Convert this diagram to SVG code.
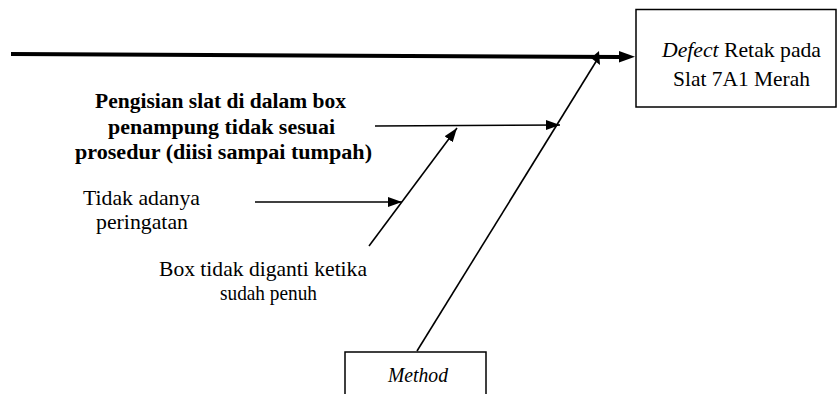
<svg xmlns="http://www.w3.org/2000/svg" width="837" height="394" viewBox="0 0 837 394">
  <defs>
    <marker id="head" markerUnits="userSpaceOnUse" markerWidth="15" markerHeight="11" refX="14" refY="5" orient="auto">
      <path d="M0,0 L14,5 L0,10 Z" fill="#000"/>
    </marker>
  </defs>
  <style>
    text { font-family: 'Liberation Serif', serif; font-size: 21px; fill: #000; }
    .b { font-weight: bold; font-size: 20.5px; }
    .i { font-style: italic; }
    .box { fill: #fff; stroke: #000; stroke-width: 1.5; }
    .ln { stroke: #000; stroke-width: 1.6; fill: none; }
  </style>
  <rect width="837" height="394" fill="#fff"/>

  <!-- connectors -->
  <g id="connectors">
    <!-- spine to the effect box -->
    <line x1="11" y1="54" x2="621" y2="57" stroke="#000" stroke-width="4"/>
    <polygon points="619,51 635,56.8 619,62.5" fill="#000"/>
    <!-- method bone meets the spine -->
    <line class="ln" x1="417" y1="351" x2="597" y2="60"/>
    <polygon points="599,51 600,65 591,58" fill="#000"/>
    <!-- cause branches -->
    <line class="ln" x1="375" y1="126" x2="560" y2="125" marker-end="url(#head)"/>
    <line class="ln" x1="369" y1="246" x2="457" y2="128" marker-end="url(#head)"/>
    <line class="ln" x1="255" y1="202" x2="402" y2="202" marker-end="url(#head)"/>
  </g>

  <!-- effect -->
  <g id="effect">
    <rect class="box" x="636" y="9.5" width="200" height="97.5"/>
    <text x="662" y="57" textLength="159" lengthAdjust="spacingAndGlyphs"><tspan class="i">Defect</tspan> Retak pada</text>
    <text x="673" y="85.5" textLength="137" lengthAdjust="spacingAndGlyphs">Slat 7A1 Merah</text>
  </g>

  <!-- category -->
  <g id="method">
    <rect class="box" x="345" y="352" width="141" height="60"/>
    <text class="i" x="388" y="382" textLength="60" lengthAdjust="spacingAndGlyphs">Method</text>
  </g>

  <!-- causes -->
  <g id="cause-pengisian">
    <text class="b" x="95" y="108" textLength="251" lengthAdjust="spacingAndGlyphs">Pengisian slat di dalam box</text>
    <text class="b" x="108" y="134" textLength="227" lengthAdjust="spacingAndGlyphs">penampung tidak sesuai</text>
    <text class="b" x="75" y="159" textLength="297" lengthAdjust="spacingAndGlyphs">prosedur (diisi sampai tumpah)</text>
  </g>
  <g id="cause-peringatan">
    <text x="83" y="205" textLength="117" lengthAdjust="spacingAndGlyphs">Tidak adanya</text>
    <text x="96" y="229" textLength="92" lengthAdjust="spacingAndGlyphs">peringatan</text>
  </g>
  <g id="cause-box">
    <text x="159" y="276" textLength="208" lengthAdjust="spacingAndGlyphs">Box tidak diganti ketika</text>
    <text x="220" y="300" textLength="97" lengthAdjust="spacingAndGlyphs">sudah penuh</text>
  </g>
</svg>
